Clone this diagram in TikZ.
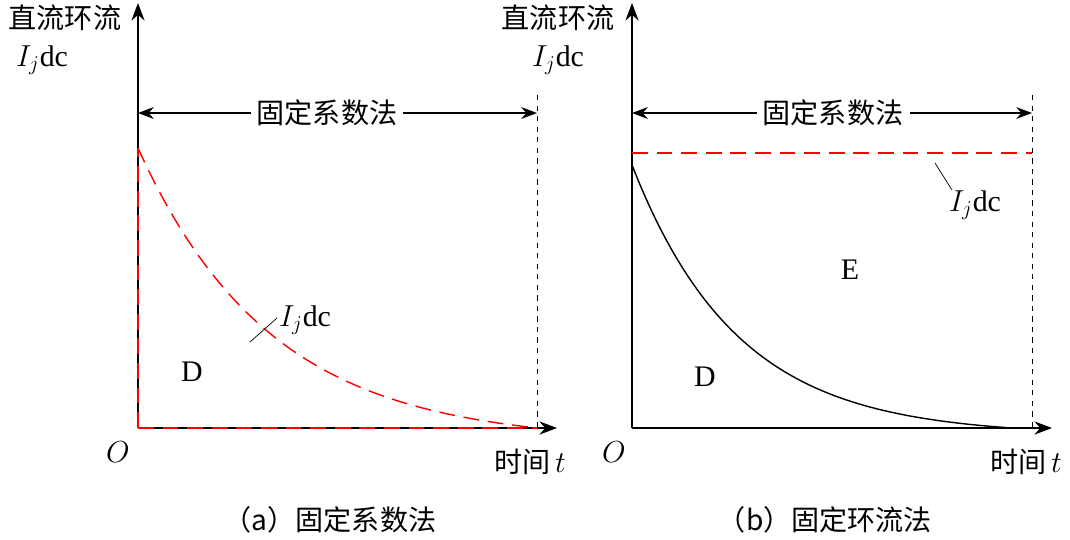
\documentclass[tikz,border=0pt]{standalone}
\usepackage{fontspec}
\setmainfont{Liberation Serif}
\newfontfamily\cjk{Noto Sans CJK SC}
\usetikzlibrary{arrows.meta}
\begin{document}
\begin{tikzpicture}[x=0.02cm, y=-0.02cm, font=\fontsize{16}{18}\selectfont,
    axis/.style={thick, -{Stealth[length=10pt]}},
    span/.style={thick, -{Stealth[length=9pt]}},
    cjktext/.style={font=\cjk\fontsize{16}{18}\selectfont},
    curvelbl/.style={font=\fontsize{17}{19}\selectfont}]
    \useasboundingbox (0,0) rectangle (1070,539);
    % (a)
    \draw[axis] (138, 428) -- (138, 3);
    \draw[axis] (138, 428) -- (557, 428);
    \draw[dashed] (537, 95) -- (537, 428);
    \node[cjktext] (ta) at (327, 113) {固定系数法};
    \draw[span] (ta.west) -- (138, 113);
    \draw[span] (ta.east) -- (537, 113);
    \draw[red, thick, dash pattern=on 9pt off 5pt] (138, 428) -- (138, 148);
    \draw[red, thick, dash pattern=on 9pt off 5pt] (138, 428) -- (537, 428);
    \draw[red, thick, dash pattern=on 9pt off 5pt, domain=0:1, samples=60, smooth, variable=\t]
        plot ({138+399*\t}, {428-280*(exp(-3*\t)-exp(-3))/(1-exp(-3))});
    \node[cjktext] at (65, 18) {直流环流};
    \node[curvelbl] at (42, 60) {$I_j$dc};
    \node[curvelbl] (la) at (305, 320) {$I_j$dc};
    \draw (250, 342) -- (277, 318);
    \node[curvelbl] at (192, 372) {D};
    \node[curvelbl] at (118, 452) {$O$};
    \node[cjktext] at (530, 462) {时间\,$t$};
    \node[cjktext] at (330, 520) {（a）固定系数法};
    % (b)
    \draw[axis] (632, 428) -- (632, 3);
    \draw[axis] (632, 428) -- (1052, 428);
    \draw[dashed] (1032, 95) -- (1032, 428);
    \node[cjktext] (tb) at (833, 113) {固定系数法};
    \draw[span] (tb.west) -- (632, 113);
    \draw[span] (tb.east) -- (1032, 113);
    \draw[red, thick, dash pattern=on 9pt off 5pt] (632, 153) -- (1032, 153);
    \draw[thick, domain=0:1, samples=80, smooth, variable=\t]
        plot ({632+380*\t}, {428-263*(exp(-3.6*\t)-exp(-3.6))/(1-exp(-3.6))});
    \node[cjktext] at (558, 18) {直流环流};
    \node[curvelbl] at (558, 60) {$I_j$dc};
    \node[curvelbl] (lb) at (975, 205) {$I_j$dc};
    \draw (935, 163) -- (952, 190);
    \node[curvelbl] at (850, 270) {E};
    \node[curvelbl] at (705, 377) {D};
    \node[curvelbl] at (614, 452) {$O$};
    \node[cjktext] at (1026, 462) {时间\,$t$};
    \node[cjktext] at (825, 520) {（b）固定环流法};
\end{tikzpicture}
\end{document}
